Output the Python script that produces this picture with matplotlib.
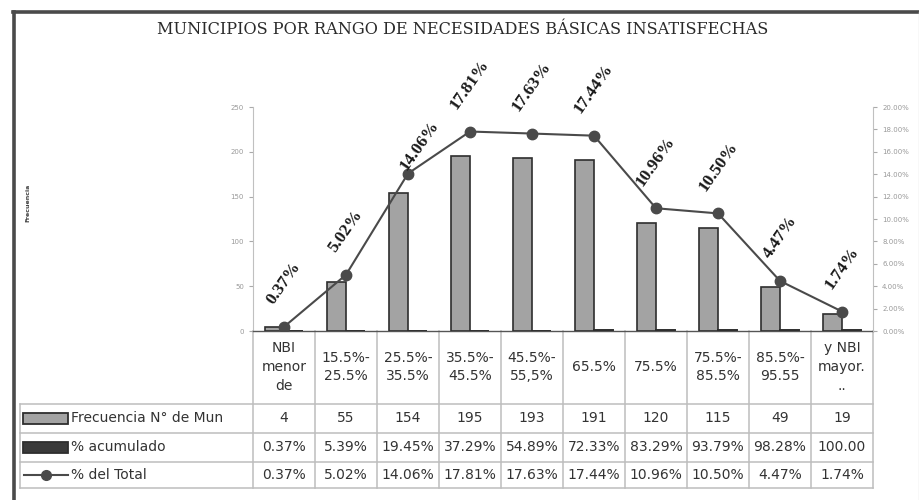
import numpy as np
import matplotlib
matplotlib.use("Agg")
import matplotlib.pyplot as plt
from matplotlib.patches import Rectangle
from matplotlib.ticker import FuncFormatter

# Rangos de NBI y series
rangos = ["NBI\nmenor\nde", "15.5%-\n25.5%", "25.5%-\n35.5%", "35.5%-\n45.5%", "45.5%-\n55,5%",
          "65.5%", "75.5%", "75.5%-\n85.5%", "85.5%-\n95.55", "y NBI\nmayor.\n.."]
frecuencia = [4, 55, 154, 195, 193, 191, 120, 115, 49, 19]
pct_acumulado = [0.37, 5.39, 19.45, 37.29, 54.89, 72.33, 83.29, 93.79, 98.28, 100.00]
pct_total = [0.37, 5.02, 14.06, 17.81, 17.63, 17.44, 10.96, 10.50, 4.47, 1.74]

serie_nombres = ["Frecuencia N° de Mun", "% acumulado", "% del Total"]
titulo = "MUNICIPIOS POR RANGO DE NECESIDADES BÁSICAS INSATISFECHAS"

W, H = 920, 500
fig = plt.figure(figsize=(W / 100, H / 100), dpi=100)

# capa en pixeles para marco y tabla
over = fig.add_axes([0, 0, 1, 1], zorder=0)
over.set_xlim(0, W)
over.set_ylim(H, 0)
over.axis("off")

x0, x1, ybase = 253, 873, 331
ytop = 107
ax = fig.add_axes([x0 / W, 1 - ybase / H, (x1 - x0) / W, (ybase - ytop) / H], zorder=2)
ax.patch.set_alpha(0)
n = len(rangos)
x = np.arange(n)
bw = 0.3

ax.bar(x - bw / 2, frecuencia, width=bw, color="#a3a3a3", edgecolor="#2e2e2e", linewidth=1.2, zorder=3)
ax.bar(x + bw / 2, np.array(pct_acumulado) / 100, width=bw, color="#3a3a3a",
       edgecolor="#2e2e2e", linewidth=1.4, zorder=3)
ax.set_xlim(-0.5, n - 0.5)
ax.set_ylim(0, 250)
ax.set_yticks(range(0, 251, 50))
ax.set_xticks([])
ax.tick_params(axis="y", labelsize=5, labelcolor="#999999", color="#aaaaaa", length=3, width=0.8)
for s in ["top", "right"]:
    ax.spines[s].set_visible(False)
ax.spines["left"].set_color("#c0c0c0")
ax.spines["bottom"].set_color("#555555")
ax.spines["bottom"].set_linewidth(1.0)

ax2 = ax.twinx()
ax2.plot(x, np.array(pct_total) / 100, color="#4a4a4a", lw=1.5, marker="o", ms=7.5,
         mfc="#4a4a4a", mec="#4a4a4a", zorder=4)
ax2.set_ylim(0, 0.20)
ax2.set_yticks(np.arange(0, 0.2001, 0.02))
ax2.yaxis.set_major_formatter(FuncFormatter(lambda v, p: f"{v * 100:.2f}%"))
ax2.tick_params(axis="y", labelsize=5, labelcolor="#999999", color="#aaaaaa", length=3, width=0.8)
for s in ["top", "left", "bottom"]:
    ax2.spines[s].set_visible(False)
ax2.spines["right"].set_color("#c0c0c0")

# etiquetas sobre cada punto; la de 14.06% va corrida hacia abajo
desplaz = {2: (8, 0)}
for i, v in enumerate(pct_total):
    ax2.annotate(f"{v:.2f}%", (x[i], v / 100), xytext=desplaz.get(i, (0, 14)),
                 textcoords="offset points", ha="center", va="bottom", rotation=55,
                 fontsize=12.5, fontweight="bold", family="Liberation Serif",
                 color="#1a1a1a", zorder=5)

# marco del grafico
over.plot([14, 14], [12, H], color="#4a4a4a", lw=2.6)
over.plot([13, W], [12, 12], color="#4a4a4a", lw=2.6)
over.plot([919, 919], [12, H], color="#dddddd", lw=1)

over.text(463, 30, titulo, ha="center", va="center", fontsize=11.6,
          family="DejaVu Serif", color="#2a2a2a")
over.text(28, 203, "Frecuencia", rotation=90, ha="center", va="center", fontsize=4.5,
          fontweight="bold", color="#444444")

# tabla de datos
gc = "#bdbdbd"
col_w = (x1 - x0) / n
rows_y = [404, 433, 462, 488]
for k in range(n + 1):
    over.plot([x0 + k * col_w] * 2, [ybase, rows_y[-1]], color=gc, lw=1.1)
for yy in rows_y:
    over.plot([20, x1], [yy, yy], color=gc, lw=1.1)
over.plot([20, 20], [rows_y[0], rows_y[-1]], color=gc, lw=1.1)

tf = dict(ha="center", va="center", fontsize=10, color="#333333", family="DejaVu Sans")
for k in range(n):
    cx = x0 + (k + 0.5) * col_w
    over.text(cx, 367, rangos[k], linespacing=1.45, **tf)
    over.text(cx, 418, f"{frecuencia[k]}", **tf)
    acum = f"{pct_acumulado[k]:.2f}%" if pct_acumulado[k] < 100 else f"{pct_acumulado[k]:.2f}"
    over.text(cx, 447, acum, **tf)
    over.text(cx, 475, f"{pct_total[k]:.2f}%", **tf)

# claves de la leyenda en la tabla
over.add_patch(Rectangle((23, 413), 45, 11, facecolor="#a3a3a3", edgecolor="#2e2e2e", lw=1.3))
over.add_patch(Rectangle((23, 442), 45, 11, facecolor="#3a3a3a", edgecolor="#2e2e2e", lw=1.3))
over.plot([24, 68], [475, 475], color="#4a4a4a", lw=1.5)
over.plot([46], [475], marker="o", ms=7, color="#4a4a4a")
lf = dict(ha="left", va="center", fontsize=10, color="#333333", family="DejaVu Sans")
for yy, name in zip([418, 447, 475], serie_nombres):
    over.text(71, yy, name, **lf)

fig.savefig("out.png", dpi=100)
